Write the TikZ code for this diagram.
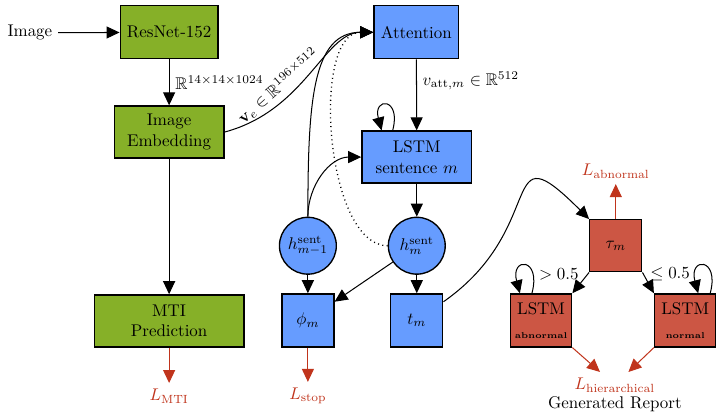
\documentclass[tikz,border=0pt]{standalone}
\usepackage{xcolor}
\usepackage{amsmath}
\usepackage{amssymb}
\usepackage{tikz}
\usetikzlibrary{positioning}
\usetikzlibrary{arrows.meta}
\pgfdeclarelayer{nodelayer}
\pgfdeclarelayer{edgelayer}
\pgfsetlayers{nodelayer,edgelayer,main}
\definecolor{mtigreen}{RGB}{134,176,40}
\definecolor{sentblue}{RGB}{102,156,255}
\definecolor{wordred}{RGB}{204,86,68}
\definecolor{lossred}{RGB}{192,52,28}
\tikzset{
  box/.style={draw, line width=0.8pt, align=center, minimum height=1.1cm, inner sep=2pt},
  green box/.style={box, fill=mtigreen},
  blue box/.style={box, fill=sentblue},
  red box/.style={box, fill=wordred},
  blue circle/.style={circle, draw, line width=0.8pt, fill=sentblue, minimum size=1.18cm, inner sep=0pt},
  loss/.style={text=lossred},
  arrow/.style={-{Triangle[length=2.7mm, width=2.5mm]}, line width=0.6pt},
  loss arrow/.style={arrow, lossred},
}

\begin{document}
\begin{tikzpicture}
  \useasboundingbox (0, 0) rectangle (14.86, -8.57);
  \begin{pgfonlayer}{nodelayer}
    \node [] (0) at (0.62, -0.68) {Image};
    \node [green box, minimum width=2.03cm] (1) at (3.51, -0.67) {ResNet-152};
    \node [green box, minimum width=2.28cm, minimum height=1.08cm] (2) at (3.51, -2.74) {Image\\Embedding};
    \node [green box, minimum width=3.11cm, minimum height=1.08cm] (3) at (3.51, -6.66) {MTI\\Prediction};
    \node [loss] (4) at (3.51, -8.22) {$L_{\mathrm{MTI}}$};
    \node [blue box, minimum width=1.76cm] (5) at (8.64, -0.67) {Attention};
    \node [blue box, minimum width=2.28cm, minimum height=1.08cm] (6) at (8.65, -3.26) {LSTM\\sentence $m$};
    \node [blue circle] (7) at (6.39, -5.10) {$h^{\text{sent}}_{m-1}$};
    \node [blue circle] (8) at (8.65, -5.10) {$h^{\text{sent}}_{m}$};
    \node [blue box, minimum width=1.08cm] (9) at (6.39, -6.65) {$\phi_m$};
    \node [blue box, minimum width=1.08cm] (10) at (8.65, -6.65) {$t_m$};
    \node [loss] (11) at (6.39, -8.22) {$L_{\mathrm{stop}}$};
    \node [red box, minimum width=1.08cm, minimum height=1.08cm] (12) at (12.78, -5.10) {$\tau_m$};
    \node [red box, minimum width=1.27cm] (13) at (11.23, -6.65) {LSTM\\[2pt]{\tiny\bfseries abnormal}};
    \node [red box, minimum width=1.27cm] (14) at (14.22, -6.65) {LSTM\\[2pt]{\tiny\bfseries normal}};
    \node [loss] (15) at (12.78, -3.55) {$L_{\mathrm{abnormal}}$};
    \node [loss] (16) at (12.76, -7.99) {$L_{\mathrm{hierarchical}}$};
    \node [] (17) at (12.76, -8.38) {Generated Report};
  \end{pgfonlayer}
  \begin{pgfonlayer}{edgelayer}
    % image branch
    \draw [arrow] (0) to (1);
    \draw [arrow] (1) to node [right] {$\mathbb{R}^{14\times14\times1024}$} (2);
    \draw [arrow] (2) to (3);
    \draw [loss arrow] (3) to (4);
    \draw [arrow] (2.east) to [out=15, in=180, out looseness=1.2, in looseness=0.7] node [pos=0.33, above, sloped] {$\mathbf{v}_e \in \mathbb{R}^{196\times512}$} (5.west);
    % sentence LSTM
    \draw [arrow] (5) to node [right, pos=0.3] {$v_{\text{att},m} \in \mathbb{R}^{512}$} (6);
    \draw [arrow] ([xshift=-0.5cm]6.north) to [out=75, in=105, looseness=8] ([xshift=-0.73cm]6.north);
    \draw [arrow] (7) to [out=90, in=180, out looseness=1.5, in looseness=0.8] (5);
    \draw [arrow] (7) to [out=90, in=180] (6);
    \draw [arrow, dotted, line width=0.8pt] (8) to [out=180, in=180, looseness=0.75] (5);
    \draw [arrow] (6) to (8);
    \draw [arrow] (8) to (10);
    \draw [arrow] (7) to (9);
    \draw [arrow] (8) to (9.35);
    \draw [loss arrow] (9) to (11);
    % word LSTMs
    \draw [arrow] (10) to [out=35, in=135, looseness=2] (12);
    \draw [loss arrow] (12) to (15);
    \draw [arrow] (12.south west) to node [above left, inner sep=1pt] {$>0.5$} (13.north east);
    \draw [arrow] (12.south east) to node [above right, inner sep=1pt] {$\leq 0.5$} (14.north west);
    \draw [arrow] ([xshift=-0.19cm]13.north) to [out=75, in=105, looseness=8] ([xshift=-0.44cm]13.north);
    \draw [arrow] ([xshift=0.52cm]14.north) to [out=75, in=105, looseness=8] ([xshift=0.27cm]14.north);
    \draw [loss arrow] (13.south east) to (16);
    \draw [loss arrow] (14.south west) to (16);
  \end{pgfonlayer}
\end{tikzpicture}
\end{document}
